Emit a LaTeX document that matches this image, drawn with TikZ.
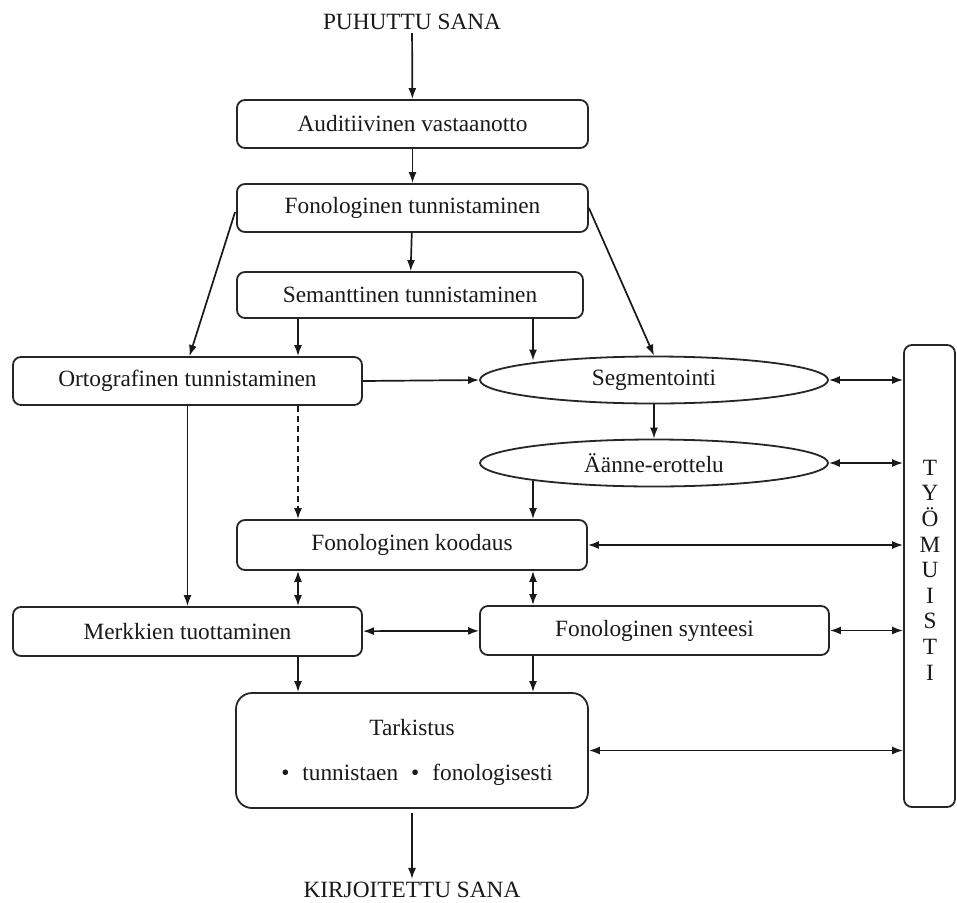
\documentclass[tikz,border=0pt]{standalone}
\usepackage{fontspec}
\setmainfont{Liberation Serif}
\usetikzlibrary{arrows.meta,shapes.geometric,calc}
\begin{document}
\begin{tikzpicture}[x=1pt,y=-1pt,
  txt/.style={font=\fontsize{23.3}{26}\selectfont, text=black!90},
  box/.style={txt, draw=black!85, line width=1.8pt, rounded corners=8pt, inner sep=0pt},
  ell/.style={txt, draw=black!85, ellipse, line width=1.8pt, inner sep=0pt},
  lbl/.style={txt, inner sep=3pt},
  arr/.style={draw=black!90, line width=1.7pt, -{Latex[length=11pt,width=8pt]}},
  darr/.style={draw=black!90, line width=1.7pt, {Latex[length=11pt,width=8pt]}-{Latex[length=11pt,width=8pt]}}]
\useasboundingbox (0,0) rectangle (957,902);
\fill[white] (0,0) rectangle (957,902);

\coordinate (cA) at (298,0);
\coordinate (cB) at (533,0);

\node[lbl] (puh) at (412,22) {PUHUTTU SANA};
\node[box, minimum width=351pt, minimum height=48pt] (aud) at (412.5,124) {Auditiivinen vastaanotto};
\node[box, minimum width=351pt, minimum height=48pt] (fon) at (412.5,208) {Fonologinen tunnistaminen};
\node[box, minimum width=346pt, minimum height=46pt] (sem) at (410,295) {Semanttinen tunnistaminen};
\node[box, minimum width=349pt, minimum height=48pt] (ort) at (187.5,381) {Ortografinen tunnistaminen};
\node[ell, minimum width=348pt, minimum height=47pt] (seg) at (654,380) {Segmentointi};
\node[ell, minimum width=348pt, minimum height=47pt] (aan) at (654,463) {Äänne-erottelu};
\node[box, minimum width=350pt, minimum height=50pt] (koo) at (412,545) {Fonologinen koodaus};
\node[box, minimum width=349pt, minimum height=49pt] (mer) at (187.5,631.5) {Merkkien tuottaminen};
\node[box, minimum width=349pt, minimum height=49pt] (syn) at (654.5,630.5) {Fonologinen synteesi};
\node[box, rounded corners=16pt, minimum width=352pt, minimum height=115pt] (tar) at (412,750.5) {};
\node[lbl] (tart) at (412,728) {Tarkistus};
\node[lbl] (tarb) at (417,775) {\textbullet\hspace{13pt}tunnistaen\hspace{13pt}\textbullet\hspace{13pt}fonologisesti};
\node[box, minimum width=51pt, minimum height=462pt] (tyo) at (929.5,576) {};
\node[txt, align=center, inner sep=0pt, font=\fontsize{23.3}{25.6}\selectfont] (tyot) at (930,570) {T\\Y\\Ö\\M\\U\\I\\S\\T\\I};
\node[lbl] (kir) at (412,890) {KIRJOITETTU SANA};

\draw[arr] (puh) -- (aud);
\draw[arr] (aud) -- (fon);
\draw[arr] (fon) -- (sem);
\draw[arr] ($(fon.west)+(-1,4)$) -- ($(ort.north)+(2,0)$);
\draw[arr] (fon.east) -- (seg.north);
\draw[arr] (sem.south -| cA) -- (ort.north -| cA);
\draw[arr] (sem.south -| cB) -- ($(seg.north -| cB)+(0,5)$);
\draw[arr] (ort.east) -- (seg.west);
\draw[arr] (seg) -- (aan);
\draw[arr] ($(aan.south -| cB)+(0,-6)$) -- (koo.north -| cB);
\draw[arr, dashed, dash pattern=on 6pt off 4pt] (ort.south -| cA) -- (koo.north -| cA);
\draw[arr] (ort) -- (mer);
\draw[darr] (koo.south -| cA) -- (mer.north -| cA);
\draw[darr] (koo.south -| cB) -- (syn.north -| cB);
\draw[darr] (mer) -- (syn);
\draw[arr] (mer.south -| cA) -- (tar.north -| cA);
\draw[arr] (syn.south -| cB) -- (tar.north -| cB);
\draw[arr] ($(tar.south)+(0,4)$) -- (kir);
\draw[darr] (seg.east) -- (tyo.west |- seg.east);
\draw[darr] (aan.east) -- (tyo.west |- aan.east);
\draw[darr] (koo.east) -- (tyo.west |- koo.east);
\draw[darr] (syn.east) -- (tyo.west |- syn.east);
\draw[darr] (tar.east) -- (tyo.west |- tar.east);
\end{tikzpicture}
\end{document}
